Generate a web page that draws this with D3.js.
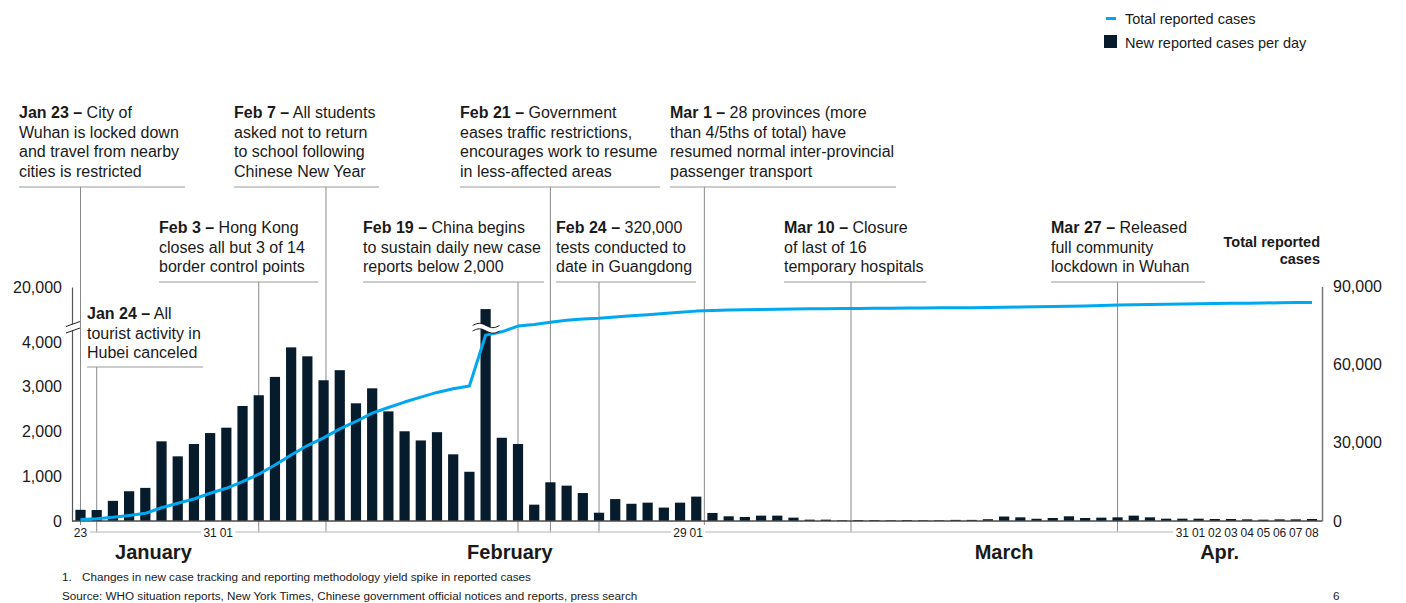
<!DOCTYPE html>
<html><head><meta charset="utf-8">
<script src="https://cdn.jsdelivr.net/npm/d3@7"></script>
<style>
body{margin:0;background:#fff;}
svg{display:block;font-family:"Liberation Sans",Arial,Helvetica,sans-serif;}
</style>
</head><body>
<svg id="chart" width="1406" height="603"></svg>
<script>
// ---------------- DATA ----------------
const startDay = "2020-01-23", endDay = "2020-04-09"; // 77 daily categories (end exclusive)
const newCases = [
  250, 245, 450, 665, 740, 1780, 1445, 1720, 1965,            // Jan 23-31
  2085, 2570, 2810, 3220, 3880, 3680, 3145, 3370, 2630, 2965,  // Feb 1-10
  2450, 2005, 1800, 1985, 1490, 1100, 15152, 1860, 1720, 365,  // Feb 11-20
  865, 790, 625, 185, 490, 385, 410, 300, 410,                 // Feb 21-29
  545, 180, 105, 90, 120, 120, 75, 30, 30, 15,                 // Mar 1-10
  20, 20, 15, 20, 15, 15, 25, 25, 40, 100,                     // Mar 11-20
  82, 50, 67, 105, 67, 75, 82, 120, 82, 52, 52,                // Mar 21-31
  52, 45, 45, 37, 30, 37, 37, 45                               // Apr 1-8
];
const totalCases = [
  600, 900, 1400, 2150, 2950, 5100, 6800, 8450, 10650,
  12550, 15100, 17950, 21500, 25350, 28950, 31900, 35350, 38200, 41400,
  43550, 45650, 47550, 49350, 50750, 51800, 71300, 72600, 74800, 75450,
  76300, 77050, 77550, 77850, 78300, 78800, 79200, 79600, 80100,
  80550, 80800, 80950, 81100, 81200, 81300, 81380, 81440, 81500, 81550,
  81600, 81640, 81680, 81720, 81760, 81800, 81840, 81880, 81930, 82000,
  82100, 82200, 82300, 82420, 82540, 82700, 82880, 83000, 83100, 83200, 83290,
  83380, 83460, 83540, 83610, 83680, 83750, 83820, 83900
];
const leftTicks = [0, 1000, 2000, 3000, 4000, 20000];
const rightTicks = [0, 30000, 60000, 90000];
const dayTickGroups = [
  [["2020-01-23","23"]],
  [["2020-01-31","31"],["2020-02-01","01"]],
  [["2020-02-29","29"],["2020-03-01","01"]],
  [["2020-03-31","31"],["2020-04-01","01"],["2020-04-02","02"],["2020-04-03","03"],["2020-04-04","04"],
   ["2020-04-05","05"],["2020-04-06","06"],["2020-04-07","07"],["2020-04-08","08"]]
];
const monthLabels = ["January", "February", "March", "Apr."];
const annotations = [
  {date:"Jan 23", day:"2020-01-23", lines:["City of","Wuhan is locked down","and travel from nearby","cities is restricted"]},
  {date:"Feb 7",  day:"2020-02-07", lines:["All students","asked not to return","to school following","Chinese New Year"]},
  {date:"Feb 21", day:"2020-02-21", lines:["Government","eases traffic restrictions,","encourages work to resume","in less-affected areas"]},
  {date:"Mar 1",  day:"2020-03-01", lines:["28 provinces (more","than 4/5ths of total) have","resumed normal inter-provincial","passenger transport"]},
  {date:"Feb 3",  day:"2020-02-03", lines:["Hong Kong","closes all but 3 of 14","border control points"]},
  {date:"Feb 19", day:"2020-02-19", lines:["China begins","to sustain daily new case","reports below 2,000"]},
  {date:"Feb 24", day:"2020-02-24", lines:["320,000","tests conducted to","date in Guangdong"]},
  {date:"Mar 10", day:"2020-03-10", lines:["Closure","of last of 16","temporary hospitals"]},
  {date:"Mar 27", day:"2020-03-27", lines:["Released","full community","lockdown in Wuhan"]},
  {date:"Jan 24", day:"2020-01-24", lines:["All","tourist activity in","Hubei canceled"]}
];
const legendLabels = ["Total reported cases", "New reported cases per day"];
const rightTitle = ["Total reported", "cases"];
const footnote = "Changes in new case tracking and reporting methodology yield spike in reported cases";
const source = "Source: WHO situation reports, New York Times, Chinese government official notices and reports, press search";

// ---------------- LAYOUT ----------------
const annoLayout = [
  {x:19,  row:0, w:166, off:0},
  {x:234, row:0, w:145, off:0.15},
  {x:460, row:0, w:200, off:0},
  {x:670, row:0, w:226, off:0.5},
  {x:159, row:1, w:159, off:0},
  {x:363, row:1, w:181, off:0},
  {x:556, row:1, w:140, off:0},
  {x:784, row:1, w:142, off:0.55},
  {x:1051,row:1, w:154, off:0},
  {x:87,  row:2, w:116, off:0}
];
const rowBase = [118, 233, 319], rowRule = [187, 282, 367], lineH = 19.5;
const monthPos = [4.5, 26.5, 57, 70.3];
const NAVY = "#061b2c", BLUE = "#00a8f0", TXT = "#1a1a1a";
const yTop = 287, yBase = 521, xLeftAxis = 72, xRightAxis = 1322;

// ---------------- SCALES ----------------
const parse = d3.utcParse("%Y-%m-%d");
const days = d3.utcDay.range(parse(startDay), parse(endDay));
const fmtKey = d3.utcFormat("%Y-%m-%d");
const dayKeys = days.map(fmtKey);
const x = d3.scalePoint().domain(dayKeys).range([80.5, 1312]);
const step = x.step();
const xi = k => x(k);
const barW = step * 0.63;
const yL = d3.scaleLinear().domain([0, 4000, 11000, 20000]).range([yBase, 342, 328, yTop]);
const yR = d3.scaleLinear().domain([0, 90000]).range([yBase, 286.5]);

const svg = d3.select("#chart");

// ---------------- ANNOTATIONS (leaders + text) ----------------
const ag = svg.append("g");
annotations.forEach((a, i) => {
  const L = annoLayout[i];
  const lx = xi(a.day) + L.off * step;
  ag.append("line").attr("x1", lx).attr("x2", lx).attr("y1", rowRule[L.row]).attr("y2", 533)
    .attr("stroke", "#8a8a8a").attr("stroke-width", 1);
  ag.append("line").attr("x1", L.x).attr("x2", L.x + L.w).attr("y1", rowRule[L.row]).attr("y2", rowRule[L.row])
    .attr("stroke", "#9a9a9a").attr("stroke-width", 1);
  a.lines.forEach((ln, j) => {
    const t = ag.append("text").attr("x", L.x).attr("y", rowBase[L.row] + j * lineH)
      .attr("font-size", 16).attr("fill", TXT);
    if (j === 0) {
      t.append("tspan").attr("font-weight", "bold").text(a.date + " \u2013");
      t.append("tspan").text(" " + ln);
    } else t.text(ln);
  });
});

// ---------------- DATE AXIS LINE & LABELS ----------------
const dg = svg.append("g");
dg.append("line").attr("x1", xi("2020-01-23") + 9).attr("x2", xi("2020-03-31") - 9)
  .attr("y1", 532).attr("y2", 532).attr("stroke", "#cfcfcf").attr("stroke-width", 1.5);
dayTickGroups.forEach(g => {
  const x0 = xi(g[0][0]) - 9, x1 = xi(g[g.length-1][0]) + 9;
  dg.append("rect").attr("x", x0).attr("y", 525).attr("width", x1 - x0).attr("height", 14).attr("fill", "#fff");
  g.forEach(([k, lab]) => {
    dg.append("text").attr("x", xi(k)).attr("y", 536.5).attr("text-anchor", "middle")
      .attr("font-size", 12).attr("fill", TXT).text(lab);
  });
});
monthLabels.forEach((m, i) => {
  svg.append("text").attr("x", 80.5 + monthPos[i] * step).attr("y", 559).attr("text-anchor", "middle")
    .attr("font-size", 20).attr("font-weight", "bold").attr("fill", TXT).text(m);
});

// ---------------- BARS ----------------
svg.append("g").selectAll("rect").data(newCases).join("rect")
  .attr("x", (d, i) => x(dayKeys[i]) - barW / 2)
  .attr("width", barW)
  .attr("y", d => yL(d))
  .attr("height", d => yBase - yL(d))
  .attr("fill", NAVY);

// ---------------- AXES ----------------
const axL = svg.append("g").attr("transform", `translate(${xLeftAxis},0)`)
  .call(d3.axisLeft(yL).tickValues(leftTicks).tickSize(0).tickPadding(10).tickFormat(d3.format(",")));
axL.select(".domain").attr("stroke", "#555").attr("stroke-width", 1.2);
axL.selectAll("text").attr("font-size", 16).attr("fill", TXT).attr("font-family", "Liberation Sans, Arial, sans-serif");

const axR = svg.append("g").attr("transform", `translate(${xRightAxis},0)`)
  .call(d3.axisRight(yR).tickValues(rightTicks).tickSize(0).tickPadding(11).tickFormat(d3.format(",")));
axR.select(".domain").attr("stroke", "#777").attr("stroke-width", 1.5);
axR.selectAll("text").attr("font-size", 16).attr("fill", TXT).attr("font-family", "Liberation Sans, Arial, sans-serif");

svg.append("line").attr("x1", xLeftAxis).attr("x2", xRightAxis).attr("y1", yBase).attr("y2", yBase)
  .attr("stroke", "#4a4a4a").attr("stroke-width", 1.3);

// left axis break
svg.append("path").attr("d", "M66,326.5 L80,321.5 L80,328 L66,333 Z").attr("fill", "#fff");
svg.append("path").attr("d", "M66,326.5 L80,321.5 M66,333 L80,328").attr("stroke", "#222").attr("stroke-width", 1).attr("fill", "none");

// ---------------- LINE ----------------
svg.append("path").datum(totalCases)
  .attr("d", d3.line().x((d, i) => x(dayKeys[i])).y(d => yR(d)))
  .attr("fill", "none").attr("stroke", BLUE).attr("stroke-width", 3).attr("stroke-linejoin", "round");

// ---------------- SPIKE BREAK SYMBOL ----------------
(function(){
  const spikeIdx = newCases.indexOf(d3.max(newCases));
  const xc = x(dayKeys[spikeIdx]);
  const x0 = xc - 13, w = 27;
  const wave = (yc) => d3.range(0, 1.0001, 0.05).map(t => [x0 + t * w, yc - 2.2 * Math.sin(2 * Math.PI * t)]);
  const top = wave(325.5), bot = wave(331);
  const area = top.concat(bot.slice().reverse());
  svg.append("path").attr("d", d3.line()(area) + "Z").attr("fill", "#fff");
  svg.append("path").attr("d", d3.line().curve(d3.curveBasis)(top)).attr("stroke", "#111").attr("fill", "none").attr("stroke-width", 1);
  svg.append("path").attr("d", d3.line().curve(d3.curveBasis)(bot)).attr("stroke", "#111").attr("fill", "none").attr("stroke-width", 1);
})();

// ---------------- LEGEND & TITLES ----------------
svg.append("line").attr("x1", 1106).attr("x2", 1116).attr("y1", 18.5).attr("y2", 18.5).attr("stroke", BLUE).attr("stroke-width", 3);
svg.append("text").attr("x", 1125).attr("y", 23.5).attr("font-size", 14.5).attr("fill", TXT).text(legendLabels[0]);
svg.append("rect").attr("x", 1104).attr("y", 35).attr("width", 13).attr("height", 13).attr("fill", NAVY);
svg.append("text").attr("x", 1125).attr("y", 48).attr("font-size", 14.5).attr("fill", TXT).text(legendLabels[1]);

rightTitle.forEach((t, i) => svg.append("text").attr("x", 1320).attr("y", 247 + i * 17)
  .attr("text-anchor", "end").attr("font-size", 14.5).attr("font-weight", "bold").attr("fill", TXT).text(t));

svg.append("text").attr("x", 62).attr("y", 581).attr("font-size", 11.7).attr("fill", TXT).text("1.");
svg.append("text").attr("x", 82).attr("y", 581).attr("font-size", 11.7).attr("fill", TXT).text(footnote);
svg.append("text").attr("x", 62).attr("y", 600).attr("font-size", 11.7).attr("fill", TXT).text(source);
svg.append("text").attr("x", 1333).attr("y", 600).attr("font-size", 11.7).attr("fill", TXT).text("6");
</script>
</body></html>
